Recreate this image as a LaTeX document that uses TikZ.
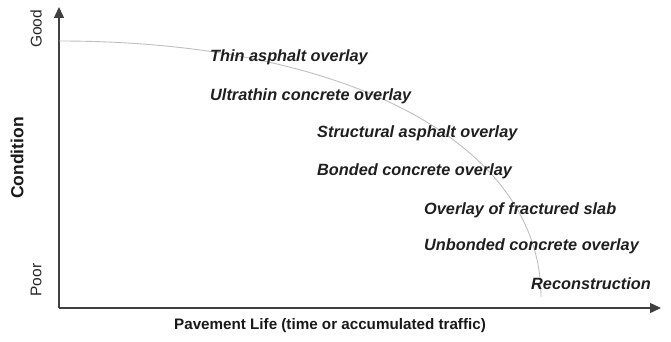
\documentclass[tikz,border=0pt]{standalone}
\usepackage{fontspec}
\setmainfont{Liberation Sans}
\usetikzlibrary{arrows.meta}
\begin{document}
\begin{tikzpicture}[x=1pt,y=-1pt,
  axis/.style={draw=black!75,line width=1.4pt,-{Triangle[length=11pt,width=10pt]}},
  curve/.style={draw=black!25,line width=0.9pt},
  lbl/.style={anchor=west,inner sep=0pt,font=\fontsize{16.3}{19}\selectfont\bfseries\itshape,text=black!88},
  axlbl/.style={inner sep=0pt,font=\fontsize{15.2}{18}\selectfont\bfseries,text=black!90},
  endlbl/.style={inner sep=0pt,rotate=90,font=\fontsize{15.5}{18}\selectfont,text=black!85}]
\useasboundingbox (0,0) rectangle (671,342);
\coordinate (o) at (59,308);
\coordinate (ytip) at (59,7);
\coordinate (xtip) at (661,308);
\coordinate (cs) at (59,41);
\coordinate (ce) at (541,297);
\draw[axis] (o) -- (ytip);
\draw[axis] (o) -- (xtip);
\draw[curve] (cs) .. controls (350,41) and (541,145) .. (ce);
\node[lbl] (l1) at (210,57) {Thin asphalt overlay};
\node[lbl] (l2) at (210,96) {Ultrathin concrete overlay};
\node[lbl] (l3) at (317,133) {Structural asphalt overlay};
\node[lbl] (l4) at (317,171) {Bonded concrete overlay};
\node[lbl] (l5) at (424,210) {Overlay of fractured slab};
\node[lbl] (l6) at (424,246) {Unbonded concrete overlay};
\node[lbl] (l7) at (531,284) {Reconstruction};
\node[axlbl] (xl) at (330,326) {Pavement Life (time or accumulated traffic)};
\node[axlbl,rotate=90,font=\fontsize{17.5}{20}\selectfont\bfseries] (yl) at (17,158) {Condition};
\node[endlbl] (good) at (36,29) {Good};
\node[endlbl] (poor) at (36,280) {Poor};
\end{tikzpicture}
\end{document}
